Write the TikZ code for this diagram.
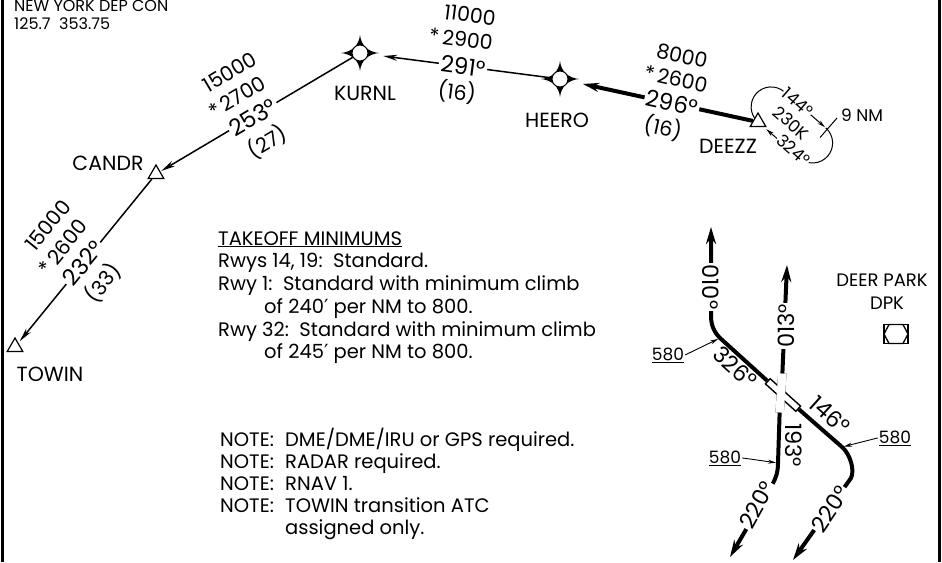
\documentclass[tikz,border=0pt]{standalone}
\usepackage{fontspec}
\setmainfont{Poppins}
\newfontfamily\symfont{DejaVu Sans}
\usetikzlibrary{arrows.meta,shapes.geometric,calc}

\tikzset{
  wptname/.style={font=\fontsize{20.5}{24}\selectfont, inner sep=0pt},
  altlbl/.style={font=\fontsize{20.5}{24}\selectfont, inner sep=0pt},
  crslbl/.style={font=\fontsize{23}{27}\selectfont, fill=white, inner sep=2pt},
  rwylbl/.style={font=\fontsize{22.5}{26}\selectfont, inner sep=1.5pt},
  holdlbl/.style={font=\fontsize{17}{20}\selectfont, fill=white, inner sep=1pt},
  altnum/.style={font=\fontsize{17}{20}\selectfont, anchor=base, inner sep=1pt},
  minstxt/.style={font=\fontsize{19.5}{23}\selectfont, anchor=base west, inner sep=0pt},
  toptxt/.style={font=\fontsize{16}{19}\selectfont, anchor=base west, inner sep=0pt},
  fixtri/.style={regular polygon, regular polygon sides=3, draw, fill=white,
    line width=1.2pt, minimum size=18pt, inner sep=0pt},
  flyby/.style={circle, draw, fill=white, line width=1pt, minimum size=16pt, inner sep=0pt},
  leg/.style={line width=1.5pt, -{Stealth[length=14pt,width=6pt]}},
  legthick/.style={line width=4pt, -{Stealth[length=16pt,width=9pt]}},
  dep/.style={line width=4pt, -{Stealth[length=17pt,width=10pt]}},
  lead/.style={line width=0.9pt, -{Stealth[length=8pt,width=4pt]}, shorten >=2pt},
  hold/.style={line width=1pt},
  rwy/.style={draw, fill=white, line width=1.4pt, minimum height=7pt, inner sep=0pt},
  flybystar/.pic={
    \fill (-19,0) .. controls (-8,-1) and (-1,-8) .. (0,-18)
      .. controls (1,-8) and (8,-1) .. (19,0)
      .. controls (8,1) and (1,8) .. (0,18)
      .. controls (-1,8) and (-8,1) .. (-19,0) -- cycle;
  },
}

\begin{document}
\begin{tikzpicture}[x=1pt,y=-1pt]
  \useasboundingbox (0,0) rectangle (942,562);

  % Frame
  \draw[line width=3pt] (2,0) -- (2,562);
  \draw[line width=3pt] (939,0) -- (939,562);

  % Departure control
  \node[toptxt] (deplbl) at (14,12) {NEW YORK DEP CON};
  \node[toptxt] (depfreq) at (14,29) {125.7\ \ 353.75};

  % Holding at DEEZZ
  \begin{scope}[shift={(758,122)}, rotate=-41]
    \draw[hold] (0,-40) .. controls (-11,-40) and (-20,-31) .. (-20,-20)
      .. controls (-20,-9) and (-11,0) .. (0,0);
    \draw[hold, -{Stealth[length=8pt,width=4pt]}] (0,-40) -- (54,-40);
    \draw[hold] (55,-40) .. controls (66,-40) and (75,-31) .. (75,-20)
      .. controls (75,-9) and (66,0) .. (55,0);
    \draw[hold, -{Stealth[length=8pt,width=4pt]}] (55,0) -- (11,0);
    \draw[hold] (57,-29) -- (57,-55);
    \node[holdlbl, rotate=-41] (hold144) at (17,-41) {144°};
    \node[holdlbl, rotate=-41] (hold230) at (26,-21) {230K};
    \node[holdlbl, rotate=-41] (hold324) at (45,-2) {324°};
  \end{scope}
  \node[font=\fontsize{17}{20}\selectfont] (holdlen) at (862,115) {9 NM};

  % Fixes
  \pic at (360,53) {flybystar};
  \pic at (560,79) {flybystar};
  \node[fixtri] (towin) at (15,347) {};
  \node[fixtri] (candr) at (156,174) {};
  \node[flyby] (kurnl) at (360,53) {};
  \node[flyby] (heero) at (560,79) {};
  \node[fixtri] (deezz) at (758,122) {};

  \node[wptname] (towinlbl) at (50,374) {TOWIN};
  \node[wptname] (candrlbl) at (108,163) {CANDR};
  \node[wptname] (kurnllbl) at (365,93) {KURNL};
  \node[wptname] (heerolbl) at (557,120) {HEERO};
  \node[wptname] (deezzlbl) at (728,146) {DEEZZ};

  % Route legs
  \draw[legthick, shorten >=15pt] (deezz) -- (heero);
  \draw[leg, shorten >=15pt] (heero) -- (kurnl);
  \draw[leg, shorten >=1pt] (kurnl) -- (candr);
  \draw[leg, shorten >=2pt] (candr) -- (towin);

  % DEEZZ - HEERO
  \node[altlbl, rotate=-12.3] (alt296) at (682,56) {8000};
  \node[altlbl, rotate=-12.3] (mca296) at (676,79) {*\,2600};
  \node[crslbl, rotate=-12.3] (crs296) at (672,103) {296°};
  \node[altlbl, rotate=-12.3] (dst296) at (663,128) {(16)};
  % HEERO - KURNL
  \node[altlbl, rotate=-7.4] (alt291) at (470,15) {11000};
  \node[altlbl, rotate=-7.4] (mca291) at (461,39) {*\,2900};
  \node[crslbl, rotate=-7.4] (crs291) at (463,66) {291°};
  \node[altlbl, rotate=-7.4] (dst291) at (457,92) {(16)};
  % KURNL - CANDR
  \node[altlbl, rotate=30.7] (alt253) at (230,72) {15000};
  \node[altlbl, rotate=30.7] (mca253) at (237,97) {*\,2700};
  \node[crslbl, rotate=30.7] (crs253) at (253,117) {253°};
  \node[altlbl, rotate=30.7] (dst253) at (267,142) {(27)};
  % CANDR - TOWIN
  \node[altlbl, rotate=50.8] (alt232) at (48,225) {15000};
  \node[altlbl, rotate=50.8] (mca232) at (63,247) {*\,2600};
  \node[crslbl, rotate=50.8] (crs232) at (83,263) {232°};
  \node[altlbl, rotate=50.8] (dst232) at (103,283) {(33)};

  % Takeoff minimums
  \node[minstxt] (tkohead) at (218,245) {\underline{TAKEOFF MINIMUMS}};
  \node[minstxt] (tko1) at (218,267) {Rwys 14, 19:\ \ Standard.};
  \node[minstxt] (tko2) at (218,290) {Rwy 1:\ \ Standard with minimum climb};
  \node[minstxt] (tko3) at (264,313) {of 240{\symfont ′} per NM to 800.};
  \node[minstxt] (tko4) at (218,336) {Rwy 32:\ \ Standard with minimum climb};
  \node[minstxt] (tko5) at (264,358) {of 245{\symfont ′} per NM to 800.};

  % Notes
  \foreach \i/\y in {1/446,2/468,3/490,4/512}
    \node[minstxt] (notehd\i) at (220,\y) {NOTE:};
  \node[minstxt] (note1) at (285,446) {DME/DME/IRU or GPS required.};
  \node[minstxt] (note2) at (285,468) {RADAR required.};
  \node[minstxt] (note3) at (285,490) {RNAV 1.};
  \node[minstxt] (note4) at (285,512) {TOWIN transition ATC};
  \node[minstxt] (note5) at (285,534) {assigned only.};

  % Airport
  \node[rwy, minimum width=38pt, rotate=86] (rwy01) at (781,393) {};
  \node[rwy, minimum width=41pt, rotate=-42] (rwy14) at (783,395) {};
  \fill[white] (rwy01.north west) -- (rwy01.north east) -- (rwy01.south east) -- (rwy01.south west) -- cycle;

  \coordinate (a580) at (720,338);
  \coordinate (a010) at (711,227);
  \coordinate (b580) at (842,447);
  \coordinate (b220) at (793,560);
  \coordinate (c013) at (787,265);
  \coordinate (d580) at (778,463);
  \coordinate (d220) at (730,557);

  \draw[dep] (rwy14.west) -- (a580) .. controls (714,332) and (711,325) .. (711,316) -- (a010);
  \draw[dep] (rwy14.east) -- (b580) .. controls (850,454) and (855,470) .. (851,478) -- (b220);
  \draw[dep] (rwy01.east) -- (c013);
  \draw[dep] (rwy01.west) -- (d580) .. controls (778,472) and (776,478) .. (772,485) -- (d220);

  \node[rwylbl, fill=white, rotate=-90] (l010) at (711,287) {010°};
  \node[rwylbl, fill=white, rotate=90] (l013) at (786,326) {013°};
  \node[rwylbl, rotate=-42] (l326) at (735,367) {326°};
  \node[rwylbl, rotate=-42] (l146) at (830,415) {146°};
  \node[rwylbl, rotate=-90] (l193) at (794,445) {193°};
  \node[rwylbl, fill=white, rotate=61] (l220a) at (757,505) {220°};
  \node[rwylbl, fill=white, rotate=56] (l220b) at (830,509) {220°};

  \node[altnum] (n580a) at (668,360) {\underline{580}};
  \node[altnum] (n580d) at (725,463) {\underline{580}};
  \node[altnum] (n580b) at (895,443) {\underline{580}};
  \draw[lead] (n580a.east) -- (a580);
  \draw[lead] (n580d.east) -- (d580);
  \draw[lead] (n580b.west) -- (b580);

  % Deer Park VOR/DME
  \node[font=\fontsize{18}{21}\selectfont, inner sep=0pt] (dpkname) at (882,280) {DEER PARK};
  \node[font=\fontsize{18}{21}\selectfont, inner sep=0pt] (dpkid) at (887,303) {DPK};
  \node[draw, line width=1.5pt, minimum width=24pt, minimum height=19pt, inner sep=0pt] (dpk) at (896,334) {};
  \draw[line width=1.3pt, shift={(dpk.center)}] (-12,0) -- (-7,-9.5) -- (7,-9.5) -- (12,0) -- (7,9.5) -- (-7,9.5) -- cycle;
\end{tikzpicture}
\end{document}
